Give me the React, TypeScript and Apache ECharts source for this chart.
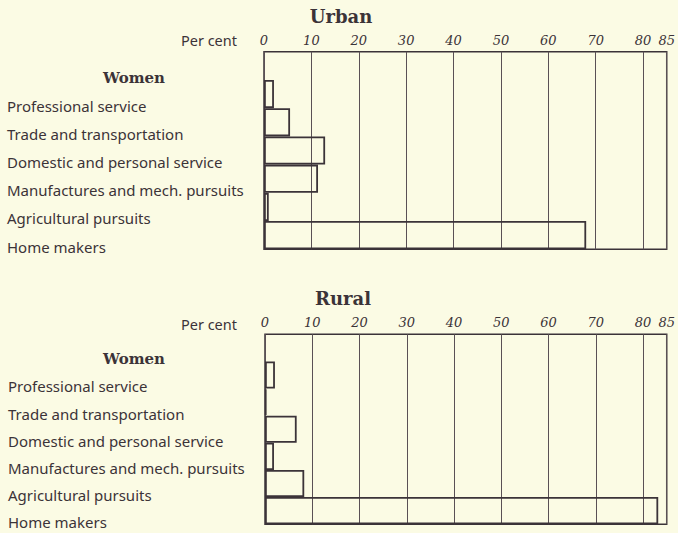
import React, { useEffect, useRef } from "react";
import * as echarts from "echarts";

const categories = [
  "",
  "Professional service",
  "Trade and transportation",
  "Domestic and personal service",
  "Manufactures and mech. pursuits",
  "Agricultural pursuits",
  "Home makers",
];
const urbanValues: (number | string)[] = ["-", 2.1, 5.5, 12.9, 11.4, 1.0, 68.0];
const ruralValues: (number | string)[] = ["-", 2.1, 0.3, 6.7, 1.9, 8.3, 83.2];
const axisMax = 85;
const tickInterval = 10;

const INK = "#3b3338";
const BG = "#fbfbe4";

export default function App() {
  const ref = useRef<HTMLDivElement>(null);
  useEffect(() => {
    if (!ref.current) return;
    const chart = echarts.init(ref.current, undefined, { renderer: "svg" });
    const xAxisBase = {
      type: "value" as const,
      position: "top" as const,
      min: 0,
      max: axisMax,
      interval: tickInterval,
      axisLine: { show: false },
      axisTick: { show: false },
      splitLine: { show: true, lineStyle: { color: "#5a5055", width: 1 } },
      axisLabel: {
        color: INK,
        fontStyle: "italic",
        fontFamily: "DejaVu Serif",
        fontSize: 13,
        margin: 5,
      },
    };
    const yAxisBase = {
      type: "category" as const,
      data: categories,
      inverse: true,
      axisLine: { show: false },
      axisTick: { show: false },
      splitLine: { show: false },
      axisLabel: {
        align: "left" as const,
        margin: 257,
        color: INK,
        fontFamily: "Noto Sans",
        fontSize: 15,
        verticalAlign: "top" as const,
        lineHeight: 23,
      },
    };
    const barStyle = {
      color: "transparent",
      borderColor: INK,
      borderWidth: 1.8,
    };
    const txt = (
      text: string,
      x: number,
      y: number,
      font: string,
      align: string = "left"
    ) => ({
      type: "text",
      x,
      y,
      style: {
        text,
        font,
        fill: INK,
        textAlign: align,
        textVerticalAlign: "middle",
      },
    });
    chart.setOption({
      animation: false,
      backgroundColor: BG,
      grid: [
        {
          left: 264,
          right: 5.5,
          top: 51.7,
          height: 197.6,
          show: true,
          borderColor: INK,
          borderWidth: 1.5,
          containLabel: false,
        },
        {
          left: 265,
          right: 5.5,
          top: 334.3,
          height: 198.7,
          show: true,
          borderColor: INK,
          borderWidth: 1.5,
          containLabel: false,
        },
      ],
      xAxis: [
        { ...xAxisBase, gridIndex: 0 },
        { ...xAxisBase, gridIndex: 1 },
      ],
      yAxis: [
        { ...yAxisBase, gridIndex: 0 },
        { ...yAxisBase, gridIndex: 1 },
      ],
      series: [
        {
          type: "bar",
          xAxisIndex: 0,
          yAxisIndex: 0,
          data: urbanValues,
          barCategoryGap: "0%",
          itemStyle: barStyle,
        },
        {
          type: "bar",
          xAxisIndex: 1,
          yAxisIndex: 1,
          data: ruralValues,
          barCategoryGap: "0%",
          itemStyle: barStyle,
        },
      ],
      graphic: [
        txt("Urban", 341, 16, "bold 18px 'DejaVu Serif'", "center"),
        txt("Rural", 343, 298, "bold 18px 'DejaVu Serif'", "center"),
        txt("Women", 134, 78, "bold 15px 'DejaVu Serif'", "center"),
        txt("Women", 134, 359, "bold 15px 'DejaVu Serif'", "center"),
        txt("Per cent", 237, 40, "14.5px 'Noto Sans'", "right"),
        txt("Per cent", 237, 324, "14.5px 'Noto Sans'", "right"),
      ],
    });
    return () => chart.dispose();
  }, []);
  return (
    <div
      ref={ref}
      style={{
        position: "fixed",
        left: 0,
        top: 0,
        width: 678,
        height: 533,
        background: BG,
      }}
    />
  );
}
